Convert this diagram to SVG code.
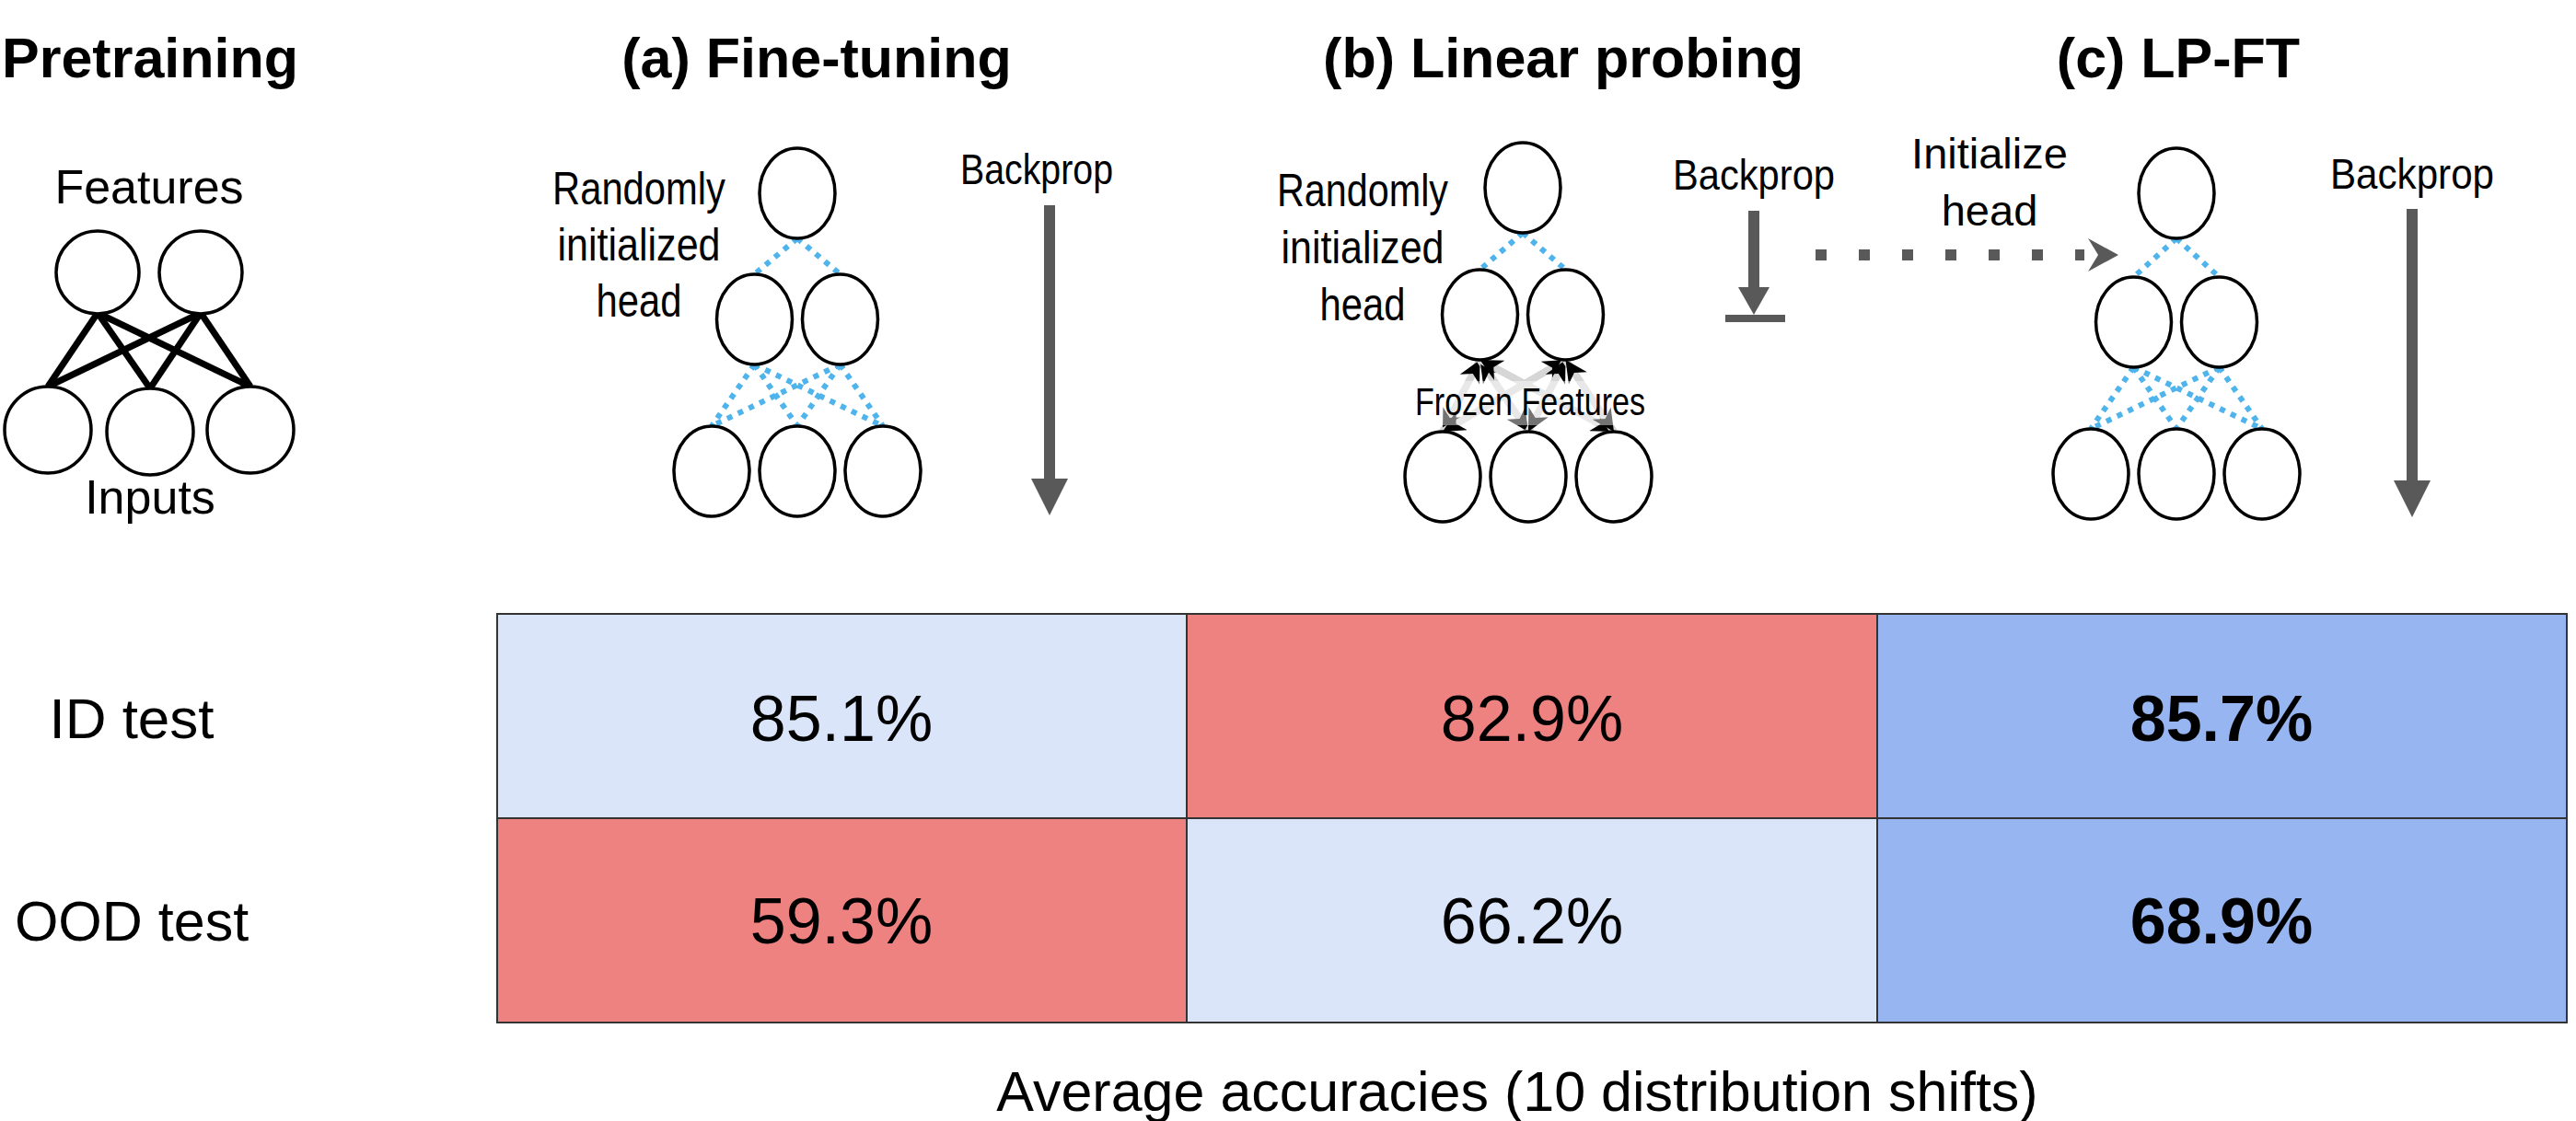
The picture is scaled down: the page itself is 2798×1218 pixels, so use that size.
<svg xmlns="http://www.w3.org/2000/svg" width="2798" height="1218" viewBox="0 0 2798 1218">
<style>
text{font-family:"Liberation Sans",Arial,sans-serif;fill:#000}
.title{font-size:61px;font-weight:bold}
.lbl{font-size:50px}
.bp{font-size:46px;text-anchor:middle}
.num{font-size:70px;text-anchor:middle}
.b{font-weight:bold}
.node{fill:#fff;stroke:#000;stroke-width:3.5}
.pre{stroke:#000;stroke-width:7;fill:none}
.blue{stroke:#4fb3ec;stroke-width:6;stroke-dasharray:6 7;fill:none}
.frz{stroke:#d6d6d6;stroke-width:8;fill:none;marker-start:url(#ah);marker-end:url(#ah)}
.gray{fill:#595959}
</style>
<defs>
<marker id="ah" viewBox="0 0 10 10" refX="10" refY="5" markerUnits="userSpaceOnUse" markerWidth="28" markerHeight="24" orient="auto-start-reverse">
<path d="M0,0 L10,5 L0,10 L3,5 z" fill="#000"/>
</marker>
</defs>
<rect width="2798" height="1218" fill="#fff"/>

<!-- titles -->
<text class="title" x="2" y="84">Pretraining</text>
<text class="title" x="887" y="84" text-anchor="middle" font-size="57">(a) Fine-tuning</text>
<text class="title" x="1698" y="84" text-anchor="middle">(b) Linear probing</text>
<text class="title" x="2366" y="84" text-anchor="middle">(c) LP-FT</text>

<!-- connectors -->
<g id="connectors">
<g id="pre-lines">
<line class="pre" x1="106" y1="340" x2="52" y2="420"/>
<line class="pre" x1="106" y1="340" x2="163" y2="422"/>
<line class="pre" x1="106" y1="340" x2="272" y2="420"/>
<line class="pre" x1="218" y1="340" x2="52" y2="420"/>
<line class="pre" x1="218" y1="340" x2="163" y2="422"/>
<line class="pre" x1="218" y1="340" x2="272" y2="420"/>
</g>
<g id="a-lines">
<line class="blue" x1="866" y1="259" x2="819.5" y2="298"/>
<line class="blue" x1="866" y1="259" x2="912.5" y2="298"/>
<line class="blue" x1="819.5" y1="396" x2="773" y2="463"/>
<line class="blue" x1="819.5" y1="396" x2="866" y2="463"/>
<line class="blue" x1="819.5" y1="396" x2="959" y2="463"/>
<line class="blue" x1="912.5" y1="396" x2="773" y2="463"/>
<line class="blue" x1="912.5" y1="396" x2="866" y2="463"/>
<line class="blue" x1="912.5" y1="396" x2="959" y2="463"/>
</g>
<g id="b-lines">
<line class="blue" x1="1654" y1="253" x2="1607.5" y2="293"/>
<line class="blue" x1="1654" y1="253" x2="1700.5" y2="293"/>
<line class="frz" x1="1607.5" y1="391" x2="1567" y2="469"/>
<line class="frz" x1="1607.5" y1="391" x2="1660" y2="469"/>
<line class="frz" x1="1607.5" y1="391" x2="1753" y2="469"/>
<line class="frz" x1="1700.5" y1="391" x2="1567" y2="469"/>
<line class="frz" x1="1700.5" y1="391" x2="1660" y2="469"/>
<line class="frz" x1="1700.5" y1="391" x2="1753" y2="469"/>
</g>
<g id="c-lines">
<line class="blue" x1="2364" y1="259" x2="2317.5" y2="301"/>
<line class="blue" x1="2364" y1="259" x2="2410.5" y2="301"/>
<line class="blue" x1="2317.5" y1="399" x2="2271" y2="466"/>
<line class="blue" x1="2317.5" y1="399" x2="2364" y2="466"/>
<line class="blue" x1="2317.5" y1="399" x2="2457" y2="466"/>
<line class="blue" x1="2410.5" y1="399" x2="2271" y2="466"/>
<line class="blue" x1="2410.5" y1="399" x2="2364" y2="466"/>
<line class="blue" x1="2410.5" y1="399" x2="2457" y2="466"/>
</g>
<g id="backprop-a">
<rect class="gray" x="1134" y="223" width="12" height="299"/>
<polygon class="gray" points="1120,520 1160,520 1140,560"/>
</g>
<g id="backprop-b">
<rect class="gray" x="1899" y="229" width="12" height="85"/>
<polygon class="gray" points="1888,312 1922,312 1905,342"/>
<rect class="gray" x="1874" y="342" width="65" height="8"/>
</g>
<g id="backprop-c">
<rect class="gray" x="2614" y="227" width="12" height="297"/>
<polygon class="gray" points="2600,522 2640,522 2620,562"/>
</g>
<g id="init-arrow">
<line x1="1972" y1="277" x2="2264" y2="277" stroke="#595959" stroke-width="12" stroke-dasharray="12 35"/>
<polygon class="gray" points="2301,277 2268,259 2279,277 2268,295"/>
</g>
</g>

<!-- pretraining nodes -->
<g id="pre-f1"><circle class="node" cx="106" cy="296" r="45"/></g>
<g id="pre-f2"><circle class="node" cx="218" cy="296" r="45"/></g>
<g id="pre-i1"><circle class="node" cx="52" cy="467" r="47"/></g>
<g id="pre-i2"><circle class="node" cx="163" cy="469" r="47"/></g>
<g id="pre-i3"><circle class="node" cx="272" cy="467" r="47"/></g>
<text x="162" y="221" font-size="52" text-anchor="middle">Features</text>
<text x="163" y="558" font-size="52" text-anchor="middle">Inputs</text>

<!-- (a) nodes -->
<g id="a-top"><ellipse class="node" cx="866" cy="210" rx="41" ry="49"/></g>
<g id="a-m1"><ellipse class="node" cx="819.5" cy="347" rx="41" ry="49"/></g>
<g id="a-m2"><ellipse class="node" cx="912.5" cy="347" rx="41" ry="49"/></g>
<g id="a-b1"><ellipse class="node" cx="773" cy="512" rx="41" ry="49"/></g>
<g id="a-b2"><ellipse class="node" cx="866" cy="512" rx="41" ry="49"/></g>
<g id="a-b3"><ellipse class="node" cx="959" cy="512" rx="41" ry="49"/></g>
<g id="a-label" class="lbl" text-anchor="middle">
<text x="694" y="222" textLength="188" lengthAdjust="spacingAndGlyphs">Randomly</text>
<text x="694" y="283" textLength="177" lengthAdjust="spacingAndGlyphs">initialized</text>
<text x="694" y="344" textLength="93" lengthAdjust="spacingAndGlyphs">head</text>
</g>
<text class="bp" x="1126" y="200" textLength="166" lengthAdjust="spacingAndGlyphs">Backprop</text>

<!-- (b) nodes -->
<g id="b-top"><ellipse class="node" cx="1654" cy="204" rx="41" ry="49"/></g>
<g id="b-m1"><ellipse class="node" cx="1607.5" cy="342" rx="41" ry="49"/></g>
<g id="b-m2"><ellipse class="node" cx="1700.5" cy="342" rx="41" ry="49"/></g>
<g id="b-b1"><ellipse class="node" cx="1567" cy="518" rx="41" ry="49"/></g>
<g id="b-b2"><ellipse class="node" cx="1660" cy="518" rx="41" ry="49"/></g>
<g id="b-b3"><ellipse class="node" cx="1753" cy="518" rx="41" ry="49"/></g>
<g id="b-label" class="lbl" text-anchor="middle">
<text x="1480" y="224" textLength="186" lengthAdjust="spacingAndGlyphs">Randomly</text>
<text x="1480" y="286" textLength="177" lengthAdjust="spacingAndGlyphs">initialized</text>
<text x="1480" y="348" textLength="93" lengthAdjust="spacingAndGlyphs">head</text>
</g>
<text class="bp" x="1905" y="206" textLength="176" lengthAdjust="spacingAndGlyphs">Backprop</text>
<rect x="1528" y="414" width="268" height="48" fill="#fff" fill-opacity="0.45"/>
<text x="1662" y="451" font-size="42" text-anchor="middle" textLength="250" lengthAdjust="spacingAndGlyphs">Frozen Features</text>
<text x="2161" y="183" font-size="47" text-anchor="middle">Initialize</text>
<text x="2161" y="245" font-size="47" text-anchor="middle">head</text>

<!-- (c) nodes -->
<g id="c-top"><ellipse class="node" cx="2364" cy="210" rx="41" ry="49"/></g>
<g id="c-m1"><ellipse class="node" cx="2317.5" cy="350" rx="41" ry="49"/></g>
<g id="c-m2"><ellipse class="node" cx="2410.5" cy="350" rx="41" ry="49"/></g>
<g id="c-b1"><ellipse class="node" cx="2271" cy="515" rx="41" ry="49"/></g>
<g id="c-b2"><ellipse class="node" cx="2364" cy="515" rx="41" ry="49"/></g>
<g id="c-b3"><ellipse class="node" cx="2457" cy="515" rx="41" ry="49"/></g>
<text class="bp" x="2620" y="205" textLength="178" lengthAdjust="spacingAndGlyphs">Backprop</text>

<!-- table -->
<g id="table" stroke="#333" stroke-width="2">
<rect x="540" y="667" width="749" height="222" fill="#dbe5f9"/>
<rect x="1289" y="667" width="750" height="222" fill="#ee8281"/>
<rect x="2039" y="667" width="749" height="222" fill="#97b6f1"/>
<rect x="540" y="889" width="749" height="222" fill="#ee8281"/>
<rect x="1289" y="889" width="750" height="222" fill="#dbe5f9"/>
<rect x="2039" y="889" width="749" height="222" fill="#97b6f1"/>
</g>
<g id="table-text">
<text class="num" x="914" y="805">85.1%</text>
<text class="num" x="1664" y="805">82.9%</text>
<text class="num b" x="2413" y="805">85.7%</text>
<text class="num" x="914" y="1025">59.3%</text>
<text class="num" x="1664" y="1025">66.2%</text>
<text class="num b" x="2413" y="1025">68.9%</text>
</g>
<text x="143" y="802" font-size="62" text-anchor="middle">ID test</text>
<text x="143" y="1022" font-size="61" text-anchor="middle">OOD test</text>
<text x="1648" y="1207" font-size="61" text-anchor="middle">Average accuracies (10 distribution shifts)</text>
</svg>
